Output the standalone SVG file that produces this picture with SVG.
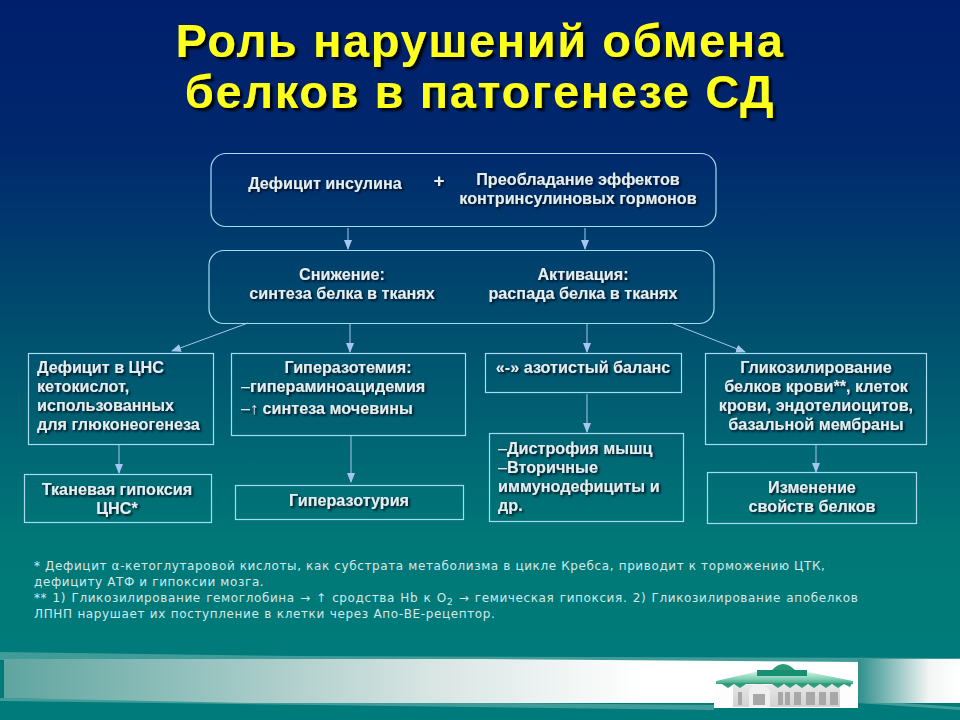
<svg xmlns="http://www.w3.org/2000/svg" width="960" height="720" viewBox="0 0 960 720">
<defs>
<linearGradient id="bg" x1="0" y1="0" x2="0" y2="1"><stop offset="0" stop-color="#001e6c"/><stop offset="0.2" stop-color="#00286d"/><stop offset="0.45" stop-color="#004e6e"/><stop offset="0.75" stop-color="#007878"/><stop offset="1" stop-color="#007b7b"/></linearGradient>
<linearGradient id="band" x1="0" y1="0" x2="1" y2="0"><stop offset="0" stop-color="#5fa5a0"/><stop offset="0.5" stop-color="#d8e5e3"/><stop offset="0.75" stop-color="#ffffff"/><stop offset="1" stop-color="#ffffff"/></linearGradient>
<linearGradient id="band2" x1="0" y1="0" x2="1" y2="0"><stop offset="0" stop-color="#2f8f8c"/><stop offset="0.7" stop-color="#f2f5f4"/><stop offset="1" stop-color="#ffffff"/></linearGradient>
<linearGradient id="roof" x1="0" y1="0" x2="0" y2="1"><stop offset="0" stop-color="#d3eee3"/><stop offset="0.6" stop-color="#7ccdb0"/><stop offset="1" stop-color="#3aa585"/></linearGradient>
<linearGradient id="wall" x1="0" y1="0" x2="0" y2="1"><stop offset="0" stop-color="#e6e6e6"/><stop offset="1" stop-color="#d2d2d2"/></linearGradient>
<filter id="sh" x="-10%" y="-30%" width="120%" height="170%"><feDropShadow dx="1.6" dy="1.6" stdDeviation="0.8" flood-color="#00101f" flood-opacity="1"/></filter>
<filter id="sh2" x="-10%" y="-30%" width="120%" height="170%"><feDropShadow dx="3" dy="3" stdDeviation="0.8" flood-color="#000" flood-opacity="0.9"/></filter>
<marker id="ah" markerWidth="10" markerHeight="8" refX="9" refY="4" orient="auto" markerUnits="userSpaceOnUse"><path d="M0 0L10 4L0 8Z" fill="#a6c6f0"/></marker>
</defs>
<style>
.n{fill:none;stroke:#a4dcf2;stroke-width:1.2}
.t{font:bold 16.2px "Liberation Sans",Arial,sans-serif;fill:#e4edf0;filter:url(#sh)}
.m{text-anchor:middle}
.l{font-weight:normal}
.h{font:bold 47px "Liberation Sans",Arial,sans-serif;fill:#ffff1e;letter-spacing:1.6px;text-anchor:middle;filter:url(#sh2)}
.f{font:12px "DejaVu Sans",Verdana,sans-serif;fill:#d5e8e8;letter-spacing:.62px}
.c{fill:none;stroke:#a6c6f0;stroke-width:1;marker-end:url(#ah)}
</style>
<rect width="960" height="720" fill="url(#bg)"/>
<g id="footer-band">
<path d="M0 652L300 656L960 658V664L0 660Z" fill="#3f9c98"/>
<path d="M0 698L714 705V710L0 701Z" fill="#3f9c98"/>
<path d="M858 700L960 707V710L858 703Z" fill="#3f9c98"/>
<path d="M4 659L480 659L858 662V703L250 703L4 698Z" fill="url(#band)"/>
<rect x="858" y="659" width="102" height="44" fill="url(#band2)"/>
<rect x="714" y="684" width="144" height="24" fill="#fdfdfd"/>
<rect x="733" y="685" width="107" height="22" fill="url(#wall)"/>
<path d="M749 707V690Q758 676 770 690V707Z" fill="#efefef"/>
<g fill="#a8a8a8"><rect x="738" y="692" width="4" height="13"/><rect x="753" y="694" width="12" height="11"/><rect x="778" y="692" width="5" height="13"/><rect x="785" y="692" width="5" height="13"/><rect x="794" y="692" width="7" height="13"/><rect x="806" y="692" width="9" height="13"/><rect x="819" y="692" width="7" height="13"/><rect x="830" y="692" width="8" height="13"/></g>
<path d="M772 670Q783 658 795 670Z" fill="#2a9a78"/>
<path d="M755 672L808 672L853 681V684H716V681Z" fill="url(#roof)"/>
<rect x="757" y="670" width="50" height="6" fill="#169070"/>
<path d="M718 683H852L850 687L844 684L838 688L832 684L826 688L820 684L814 688L808 684L802 688L796 684L790 688L784 684L778 688L772 684L746 684L740 688L734 684L728 688L722 684Z" fill="#2f9c7c"/>
</g>
<g id="title">
<text class="h" x="480" y="57">Роль нарушений обмена</text>
<text class="h" x="480" y="108">белков в патогенезе СД</text>
</g>
<g id="connectors">
<path class="c" d="M348 228V249"/>
<path class="c" d="M585 228V249"/>
<path class="c" d="M248 323L172 351"/>
<path class="c" d="M350 323V352"/>
<path class="c" d="M587 323V352"/>
<path class="c" d="M671 323L745 352"/>
<path class="c" d="M119 444V473"/>
<path class="c" d="M351 435V482"/>
<path class="c" d="M587 394V432"/>
<path class="c" d="M816 444V472"/>
</g>
<g id="n1"><rect class="n" x="211" y="153.500" width="505" height="73" rx="15"/>
<text class="t m" x="325" y="189">Дефицит инсулина</text>
<text class="t m" x="439" y="187" style="font-size:19px">+</text>
<text class="t m" x="578" y="185">Преобладание эффектов</text>
<text class="t m" x="578" y="204">контринсулиновых гормонов</text></g>
<g id="n2"><rect class="n" x="209" y="250.500" width="505" height="73" rx="15"/>
<text class="t m" x="342" y="280">Снижение:</text>
<text class="t m" x="342" y="299">синтеза белка в тканях</text>
<text class="t m" x="583" y="280">Активация:</text>
<text class="t m" x="583" y="299">распада белка в тканях</text></g>
<g id="n3"><rect class="n" x="28.500" y="353.500" width="185" height="91"/>
<text class="t" x="37" y="373">Дефицит в ЦНС</text>
<text class="t" x="37" y="392">кетокислот,</text>
<text class="t" x="37" y="411">использованных</text>
<text class="t" x="37" y="430">для глюконеогенеза</text></g>
<g id="n4"><rect class="n" x="231.500" y="353.500" width="234" height="82"/>
<text class="t m" x="348" y="373">Гиперазотемия:</text>
<text class="t" x="241" y="392"><tspan class="l">–</tspan>гипераминоацидемия</text>
<text class="t" x="241" y="414"><tspan class="l">–↑</tspan> синтеза мочевины</text></g>
<g id="n5"><rect class="n" x="485.500" y="353.500" width="196" height="39"/>
<text class="t m" x="583" y="373">«-» азотистый баланс</text></g>
<g id="n6"><rect class="n" x="705.500" y="353.500" width="221" height="91"/>
<text class="t m" x="816" y="373">Гликозилирование</text>
<text class="t m" x="816" y="392">белков крови**, клеток</text>
<text class="t m" x="816" y="411">крови, эндотелиоцитов,</text>
<text class="t m" x="816" y="430">базальной мембраны</text></g>
<g id="n7"><rect class="n" x="24.500" y="474.500" width="187" height="48"/>
<text class="t m" x="117" y="495">Тканевая гипоксия</text>
<text class="t m" x="117" y="514">ЦНС*</text></g>
<g id="n8"><rect class="n" x="235.500" y="485.500" width="228" height="34"/>
<text class="t m" x="349" y="506">Гиперазотурия</text></g>
<g id="n9"><rect class="n" x="489.500" y="433.500" width="194" height="88"/>
<text class="t" x="498" y="454"><tspan class="l">–</tspan>Дистрофия мышц</text>
<text class="t" x="498" y="473"><tspan class="l">–</tspan>Вторичные</text>
<text class="t" x="498" y="492">иммунодефициты и</text>
<text class="t" x="498" y="511">др.</text></g>
<g id="n10"><rect class="n" x="707.500" y="472.500" width="209" height="51"/>
<text class="t m" x="812" y="493">Изменение</text>
<text class="t m" x="812" y="512">свойств белков</text></g>
<g id="notes">
<text class="f" x="34" y="570">* Дефицит α-кетоглутаровой кислоты, как субстрата метаболизма в цикле Кребса, приводит к торможению ЦТК,</text>
<text class="f" x="34" y="586">дефициту АТФ и гипоксии мозга.</text>
<text class="f" x="34" y="602" word-spacing=".9">** 1) Гликозилирование гемоглобина → ↑ сродства Hb к O<tspan dy="3" font-size="9.500">2</tspan><tspan dy="-3"> → гемическая гипоксия. 2) Гликозилирование апобелков</tspan></text>
<text class="f" x="34" y="618" word-spacing=".4">ЛПНП нарушает их поступление в клетки через Апо-ВЕ-рецептор.</text>
</g>
</svg>
